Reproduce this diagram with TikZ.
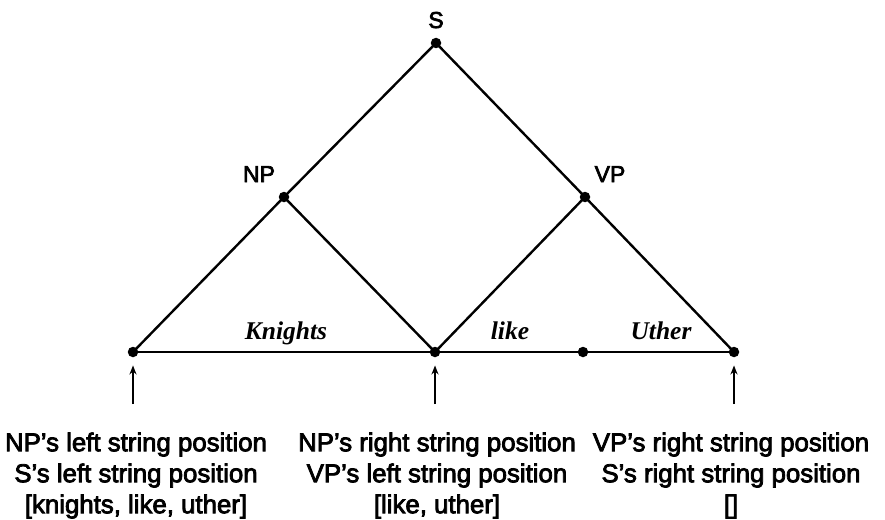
\documentclass[tikz,border=0pt]{standalone}
\usepackage{fontspec}
\usetikzlibrary{arrows.meta}
\setmainfont{Liberation Sans}[FakeBold=3]
\newfontfamily\wordfont{Liberation Serif}
\begin{document}
\begin{tikzpicture}[x=1pt,y=-1pt,
  edge/.style={line width=2.4pt},
  pt/.style={circle,fill=black,inner sep=0pt,minimum size=10.5pt},
  lab/.style={font=\fontsize{23}{26}\selectfont,anchor=base},
  word/.style={font=\wordfont\bfseries\itshape\fontsize{25.5}{28}\selectfont,anchor=base},
  info/.style={font=\fontsize{25.8}{31}\selectfont,align=center,anchor=north},
  up/.style={-{Stealth[length=9pt,width=7pt]},line width=2pt}]
\useasboundingbox (0,0) rectangle (885,519);
\node[pt] (S) at (436,43) {};
\node[pt] (NP) at (284,197) {};
\node[pt] (VP) at (585,197) {};
\node[pt] (p0) at (133,352) {};
\node[pt] (p1) at (435,352) {};
\node[pt] (p2) at (583,352) {};
\node[pt] (p3) at (734,352) {};
\node[lab] (lS) at (436,28) {S};
\node[lab] (lNP) at (259,182) {NP};
\node[lab] (lVP) at (610,182) {VP};
\draw[edge] (S.center) -- (NP.center);
\draw[edge] (S.center) -- (VP.center);
\draw[edge] (NP.center) -- (p0.center);
\draw[edge] (NP.center) -- (p1.center);
\draw[edge] (VP.center) -- (p1.center);
\draw[edge] (VP.center) -- (p3.center);
\draw[edge] (p0.center) -- (p1.center) -- (p2.center) -- (p3.center);
\node[word] (w1) at (286,339) {Knights};
\node[word] (w2) at (510,339) {like};
\node[word] (w3) at (661,339) {Uther};
\coordinate (a0) at (133,404);
\coordinate (a1) at (435,404);
\coordinate (a3) at (734,404);
\draw[up] (a0) -- ([yshift=-8pt]p0.south);
\draw[up] (a1) -- ([yshift=-8pt]p1.south);
\draw[up] (a3) -- ([yshift=-8pt]p3.south);
\node[info] (t0) at (136,429) {NP's left string position\\S's left string position\\{[}knights, like, uther{]}};
\node[info] (t1) at (437,429) {NP's right string position\\VP's left string position\\{[}like, uther{]}};
\node[info] (t3) at (731,429) {VP's right string position\\S's right string position\\{[]}};
\end{tikzpicture}
\end{document}
